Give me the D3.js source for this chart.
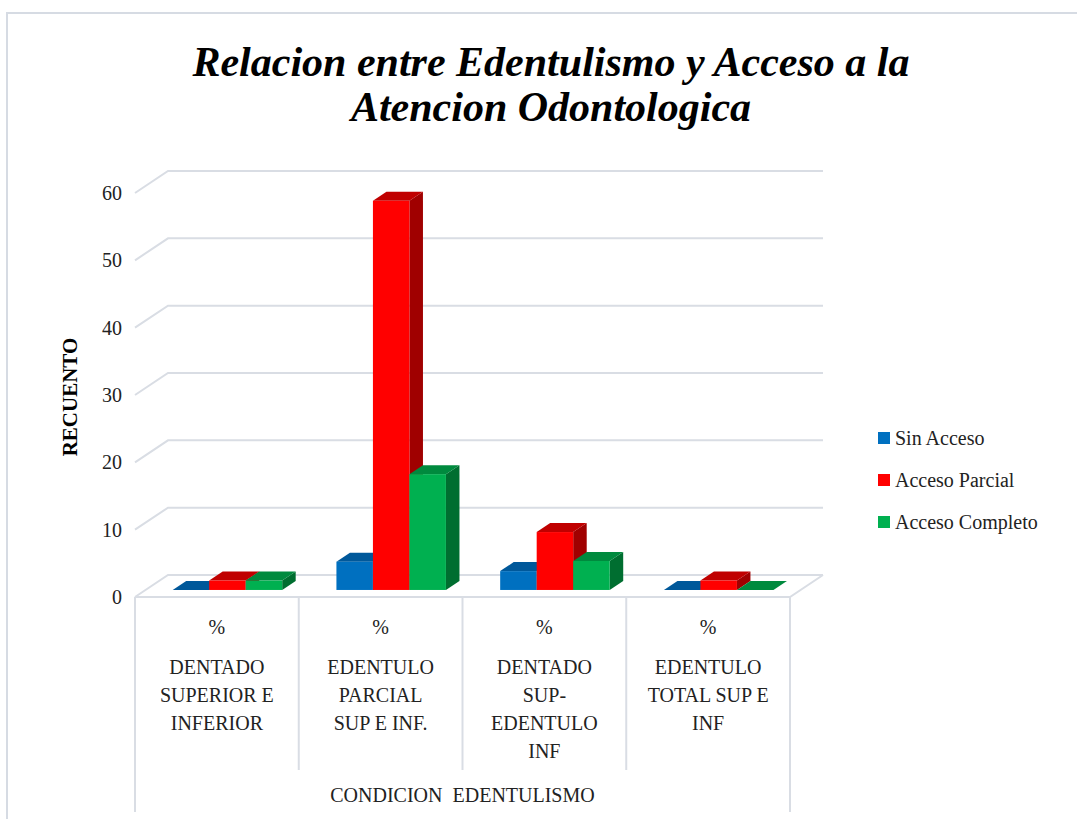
<!DOCTYPE html>
<html>
<head>
<meta charset="utf-8">
<script src="https://cdn.jsdelivr.net/npm/d3@7"></script>
<style>
  body { margin: 0; background: #fff; }
  text { font-family: "Liberation Serif", "Times New Roman", serif; }
</style>
</head>
<body>
<script>
// chart values
var categories = ["DENTADO\nSUPERIOR E\nINFERIOR", "EDENTULO\nPARCIAL\nSUP E INF.", "DENTADO\nSUP-\nEDENTULO\nINF", "EDENTULO\nTOTAL SUP E\nINF"];
var series = ["Sin Acceso", "Acceso Parcial", "Acceso Completo"];
var sinAcceso = [0, 4.2, 2.8, 0];
var accesoParcial = [1.4, 57.8, 8.6, 1.4];
var accesoCompleto = [1.4, 17.2, 4.3, 0];
var yTicks = [0, 10, 20, 30, 40, 50, 60];

var values = [sinAcceso, accesoParcial, accesoCompleto];
var frontColors = ["#0070C0", "#FF0000", "#00B050"];
var topColors = ["#00589A", "#C00000", "#008A3E"];
var sideColors = ["#004E88", "#A00000", "#006E30"];

var width = 1077, height = 819;
var plotLeft = 135, plotRight = 790;
var depthX = 33, depthY = -22;   // floor depth vector
var zFront = 0.32, zBack = 0.73; // where bars sit in the depth
var gridColor = "#d9dde4";

var svg = d3.select("body").append("svg")
  .attr("width", width)
  .attr("height", height);

// outer frame (cut off at right and bottom)
svg.append("path")
  .attr("d", "M7," + (height + 5) + "V13H" + (width + 5))
  .attr("fill", "none")
  .attr("stroke", "#d6dbe3")
  .attr("stroke-width", 2);

// title
var title = svg.append("text")
  .attr("x", 551)
  .attr("text-anchor", "middle")
  .attr("font-size", 42)
  .attr("font-weight", "bold")
  .attr("font-style", "italic");
title.append("tspan").attr("x", 551).attr("y", 76).text("Relacion entre Edentulismo y Acceso a la");
title.append("tspan").attr("x", 551).attr("y", 121).text("Atencion Odontologica");

var x = d3.scaleBand().domain(categories).range([plotLeft, plotRight]);
var xs = d3.scaleBand().domain(series).range([0, x.bandwidth()]).paddingOuter(0.743);
var y = d3.scaleLinear().domain([0, 60]).range([597, 193]);

function proj(px, v, z) {
  return [px + z * depthX, y(v) + z * depthY];
}

// side wall + back wall gridlines
yTicks.forEach(function(t) {
  var a = proj(plotLeft, t, 0), b = proj(plotLeft, t, 1), c = proj(plotRight, t, 1);
  svg.append("polyline")
    .attr("points", [a, b, c].map(function(p) { return p.join(","); }).join(" "))
    .attr("fill", "none")
    .attr("stroke", gridColor)
    .attr("stroke-width", 2);
});

// floor
var f1 = proj(plotLeft, 0, 0), f2 = proj(plotRight, 0, 0), f3 = proj(plotRight, 0, 1);
svg.append("polyline")
  .attr("points", [f1, f2, f3].map(function(p) { return p.join(","); }).join(" "))
  .attr("fill", "none")
  .attr("stroke", gridColor)
  .attr("stroke-width", 2);

// y axis labels
var yAxis = d3.axisLeft(y).tickValues(yTicks).tickSize(0).tickPadding(13);
var gy = svg.append("g").attr("transform", "translate(" + plotLeft + ",0)").call(yAxis);
gy.select(".domain").remove();
gy.selectAll("text")
  .attr("font-family", "Liberation Serif")
  .attr("font-size", 20)
  .attr("fill", "#222");

svg.append("text")
  .attr("transform", "translate(77,397) rotate(-90)")
  .attr("text-anchor", "middle")
  .attr("font-size", 21)
  .attr("font-weight", "bold")
  .text("RECUENTO");

// bars, left to right so the side faces overlap correctly
categories.forEach(function(cat, ci) {
  series.forEach(function(s, si) {
    var v = values[si][ci];
    var x0 = x(cat) + xs(s), x1 = x0 + xs.bandwidth();
    var g = svg.append("g");
    var pts = function(arr) { return arr.map(function(p) { return p.join(","); }).join(" "); };
    // right side
    g.append("polygon")
      .attr("points", pts([proj(x1, 0, zFront), proj(x1, v, zFront), proj(x1, v, zBack), proj(x1, 0, zBack)]))
      .attr("fill", sideColors[si]);
    // top
    g.append("polygon")
      .attr("points", pts([proj(x0, v, zFront), proj(x1, v, zFront), proj(x1, v, zBack), proj(x0, v, zBack)]))
      .attr("fill", topColors[si]);
    // front
    var a = proj(x0, v, zFront), b = proj(x1, 0, zFront);
    g.append("rect")
      .attr("x", a[0])
      .attr("y", a[1])
      .attr("width", b[0] - a[0])
      .attr("height", b[1] - a[1])
      .attr("fill", frontColors[si]);
  });
});

// category table below the floor
var tableTop = 597;
x.domain().forEach(function(cat, i) {
  if (i > 0) {
    svg.append("line")
      .attr("x1", x(cat)).attr("x2", x(cat))
      .attr("y1", tableTop).attr("y2", 770)
      .attr("stroke", gridColor).attr("stroke-width", 2);
  }
  var cx = x(cat) + x.bandwidth() / 2;
  svg.append("text")
    .attr("x", cx).attr("y", 634)
    .attr("text-anchor", "middle")
    .attr("font-size", 20)
    .attr("fill", "#222")
    .text("%");
  cat.split("\n").forEach(function(line, li) {
    svg.append("text")
      .attr("x", cx).attr("y", 674 + li * 28)
      .attr("text-anchor", "middle")
      .attr("font-size", 20)
      .attr("fill", "#222")
      .text(line);
  });
});
[plotLeft, plotRight].forEach(function(px) {
  svg.append("line")
    .attr("x1", px).attr("x2", px)
    .attr("y1", tableTop).attr("y2", 812)
    .attr("stroke", gridColor).attr("stroke-width", 2);
});
svg.append("text")
  .attr("x", (plotLeft + plotRight) / 2).attr("y", 802)
  .attr("text-anchor", "middle")
  .attr("font-size", 20)
  .attr("fill", "#222")
  .attr("xml:space", "preserve")
  .text("CONDICION  EDENTULISMO");

// legend
var legend = svg.append("g").attr("transform", "translate(878,438)");
series.forEach(function(s, i) {
  legend.append("rect")
    .attr("x", 0).attr("y", i * 42 - 6)
    .attr("width", 12).attr("height", 12)
    .attr("fill", frontColors[i]);
  legend.append("text")
    .attr("x", 17).attr("y", i * 42 + 7)
    .attr("font-size", 20)
    .attr("fill", "#222")
    .text(s);
});
</script>
</body>
</html>
